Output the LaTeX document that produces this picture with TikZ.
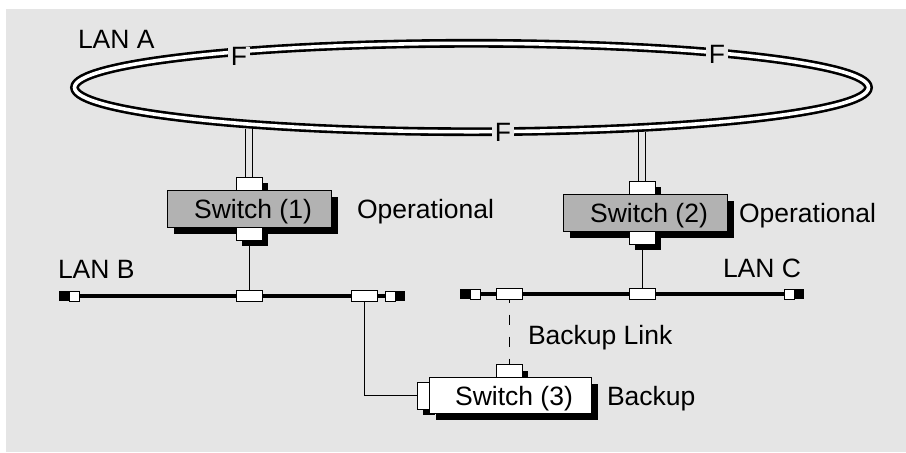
\documentclass[tikz,border=0pt]{standalone}
\usepackage{fontspec}
\setmainfont{Liberation Sans}
\usetikzlibrary{positioning,shapes.geometric,shadows}
\tikzset{
font=\fontsize{13.25}{16}\selectfont,
every node/.style={inner sep=0pt, outer sep=0pt},
txt/.style={anchor=west, text height=9.5pt, text depth=0pt},
ring/.style={ellipse, draw, double=white, line width=1.3pt, double distance=1.8pt,
  minimum width=397pt, minimum height=44.2pt},
flag/.style={fill=gray!20, inner xsep=1.5pt, text height=9.5pt, text depth=0pt},
switch/.style={draw, line width=0.5pt, minimum width=82pt, minimum height=18.5pt,
  text height=9.5pt, text depth=0pt, execute at begin node={\kern4pt},
  drop shadow={shadow xshift=3.25pt, shadow yshift=-3.25pt, fill=black, opacity=1}},
sport/.style={draw, fill=white, line width=0.5pt, minimum width=13pt, minimum height=6.5pt,
  drop shadow={shadow xshift=3pt, shadow yshift=-3pt, fill=black, opacity=1}},
bport/.style={draw, fill=white, line width=0.5pt, minimum width=13pt, minimum height=5.5pt},
termB/.style={fill=black, minimum size=5pt},
termW/.style={draw, fill=white, line width=0.5pt, minimum size=5pt},
bus/.style={line width=2.2pt},
wire/.style={line width=0.5pt},
stub/.style={line width=0.5pt, double=gray!20, double distance=2.85pt, shorten >=2.2pt},
backup/.style={line width=0.5pt, dash pattern=on 5pt off 6pt, dash phase=3.5pt},
}

\begin{document}
\begin{tikzpicture}
    [x=0.5pt, y=-0.5pt]
    \useasboundingbox (0,0) rectangle (906,452);
    \fill[gray!20] (6,9) rectangle (906,452);

    %ring
    \node[ring] (lanA) at (471.5,87.5) {};
    \node[flag] (fA) at (239,56) {F};
    \node[flag] (fB) at (717,54) {F};
    \node[flag] (fC) at (503,132) {F};
    \node[txt] (labA) at (78,39) {LAN A};

    %switch 1
    \coordinate (sw1c) at (249,208.5);
    \node[sport,above=9.25pt of sw1c] (sw1top) {};
    \node[switch,fill=black!30] (sw1) at (sw1c) {Switch (1)};
    \node[sport,below=9.25pt of sw1c] (sw1bot) {};
    \node[txt,right=13pt of sw1] (op1) {Operational};

    %switch 2
    \coordinate (sw2c) at (645,212.5);
    \node[sport,above=9.25pt of sw2c,xshift=-1.5pt] (sw2top) {};
    \node[switch,fill=black!30] (sw2) at (sw2c) {Switch (2)};
    \node[sport,below=9.25pt of sw2c,xshift=-1.5pt] (sw2bot) {};
    \node[txt,right=6pt of sw2] (op2) {Operational};

    %LAN B
    \node[termB] (bL) at (64,296) {};
    \node[termW,right=0pt of bL] (bLw) {};
    \node[termB] (bR) at (400,296) {};
    \node[termW,left=0pt of bR] (bRw) {};
    \draw[bus] (bLw) -- (bRw);
    \node[bport] (lanBp1) at (249,296) {};
    \node[bport] (lanBp2) at (364.5,296) {};
    \node[txt] (labB) at (58,269) {LAN B};

    %LAN C
    \node[termB] (cL) at (465,294) {};
    \node[termW,right=0pt of cL] (cLw) {};
    \node[termB] (cR) at (799,294) {};
    \node[termW,left=0pt of cR] (cRw) {};
    \draw[bus] (cLw) -- (cRw);
    \node[bport] (lanCp1) at (509,294) {};
    \node[bport] (lanCp2) at (642,294) {};
    \node[txt] (labC) at (723,268) {LAN C};

    %switch 3
    \coordinate (sw3c) at (510,395.5);
    \node[sport,above=9pt of sw3c,xshift=-0.5pt] (sw3top) {};
    \node[sport,minimum width=6pt,minimum height=13.5pt,left=40.5pt of sw3c] (sw3left) {};
    \node[switch,fill=white,minimum width=81pt,minimum height=18pt] (sw3) at (sw3c) {Switch (3)};
    \node[txt,right=8pt of sw3] (bk) {Backup};

    %links
    \draw[stub] (sw1top.north) -- (sw1top.north |- lanA.-170.8);
    \draw[stub] (sw2top.north) -- (sw2top.north |- lanA.-13.3);
    \draw[wire] (sw1bot) -- (lanBp1);
    \draw[wire] (sw2bot) -- (lanCp2);
    \draw[wire] (lanBp2) |- (sw3left);
    \draw[backup] (lanCp1) -- (sw3top);
    \node[txt] (bkl) at (528,335) {Backup Link};
\end{tikzpicture}
\end{document}
